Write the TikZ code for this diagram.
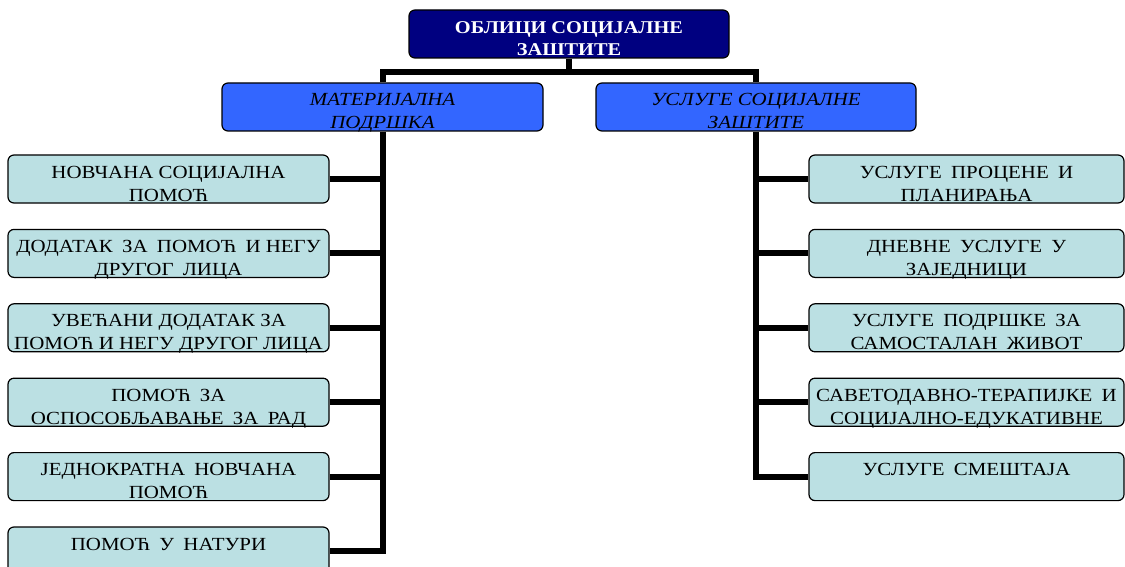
\documentclass[tikz,border=0pt]{standalone}
\usepackage{fontspec}
\setmainfont{Liberation Serif}[FakeStretch=1.13]
\usetikzlibrary{positioning}
\definecolor{topNavy}{HTML}{000080}
\definecolor{midBlue}{HTML}{3366FF}
\definecolor{leafTeal}{HTML}{BBE0E3}
\newcommand{\wideGap}{\hspace{0.5em}}
\begin{document}
\begin{tikzpicture}[
    x=1pt, y=1pt,
    node distance=25.2pt,
    boxShape/.style={draw, rounded corners=6pt, line width=1.2pt,
        inner xsep=0pt, inner ysep=0pt, align=center,
        text height=46pt, text depth=2pt},
    oneLine/.style={text height=23pt, text depth=25pt},
    topBox/.style={boxShape, fill=topNavy, text=white, minimum width=320pt,
        font=\bfseries\fontsize{18}{22}\selectfont},
    midBox/.style={boxShape, fill=midBlue, minimum width=321pt,
        font=\itshape\fontsize{18.5}{23}\selectfont},
    leftBox/.style={boxShape, fill=leafTeal, minimum width=321pt,
        font=\fontsize{18.5}{23}\selectfont},
    rightBox/.style={leftBox, minimum width=315pt},
    link/.style={line width=6pt}
    ]
    \useasboundingbox (0,0) rectangle (1125,-567);

    \node[topBox] (top) at (569,-34) {ОБЛИЦИ СОЦИЈАЛНЕ\\ЗАШТИТЕ};
    \coordinate[below=13pt of top.south] (hub);

    \node[midBox] (mat) at (382.5,-107) {МАТЕРИЈАЛНА\\ПОДРШКА};
    \node[midBox, minimum width=320pt] (usl) at (756,-107) {УСЛУГЕ СОЦИЈАЛНЕ\\ЗАШТИТЕ};

    % left column
    \node[leftBox] (m1) at (168.5,-179) {НОВЧАНА СОЦИЈАЛНА\\ПОМОЋ};
    \node[leftBox, below=of m1] (m2) {ДОДАТАК\wideGap ЗА\wideGap ПОМОЋ\wideGap И НЕГУ\\ДРУГОГ\wideGap ЛИЦА};
    \node[leftBox, below=of m2] (m3) {УВЕЋАНИ ДОДАТАК ЗА\\ПОМОЋ И НЕГУ ДРУГОГ ЛИЦА};
    \node[leftBox, below=of m3] (m4) {ПОМОЋ\wideGap ЗА\\ОСПОСОБЉАВАЊЕ\wideGap ЗА\wideGap РАД};
    \node[leftBox, below=of m4] (m5) {ЈЕДНОКРАТНА\wideGap НОВЧАНА\\ПОМОЋ};
    \node[leftBox, oneLine, below=of m5] (m6) {ПОМОЋ\wideGap У\wideGap НАТУРИ};

    % right column
    \node[rightBox] (u1) at (966.5,-179) {УСЛУГЕ\wideGap ПРОЦЕНЕ\wideGap И\\ПЛАНИРАЊА};
    \node[rightBox, below=of u1] (u2) {ДНЕВНЕ\wideGap УСЛУГЕ\wideGap У\\ЗАЈЕДНИЦИ};
    \node[rightBox, below=of u2] (u3) {УСЛУГЕ\wideGap ПОДРШКЕ\wideGap ЗА\\САМОСТАЛАН\wideGap ЖИВОТ};
    \node[rightBox, below=of u3] (u4) {САВЕТОДАВНО-ТЕРАПИЈКЕ\wideGap И\\СОЦИЈАЛНО-ЕДУКАТИВНЕ};
    \node[rightBox, oneLine, below=of u4] (u5) {УСЛУГЕ\wideGap СМЕШТАЈА};

    \draw[link] (top.south) -- (hub);
    \draw[link] (mat.north) -- (mat.north |- hub) -- (usl.north |- hub) -- (usl.north);

    \draw[link] (mat.south) |- (m6.east);
    \draw[link] (m1.east) -- (m1.east -| mat.south);
    \draw[link] (m2.east) -- (m2.east -| mat.south);
    \draw[link] (m3.east) -- (m3.east -| mat.south);
    \draw[link] (m4.east) -- (m4.east -| mat.south);
    \draw[link] (m5.east) -- (m5.east -| mat.south);

    \draw[link] (usl.south) |- (u5.west);
    \draw[link] (u1.west) -- (u1.west -| usl.south);
    \draw[link] (u2.west) -- (u2.west -| usl.south);
    \draw[link] (u3.west) -- (u3.west -| usl.south);
    \draw[link] (u4.west) -- (u4.west -| usl.south);
\end{tikzpicture}
\end{document}
